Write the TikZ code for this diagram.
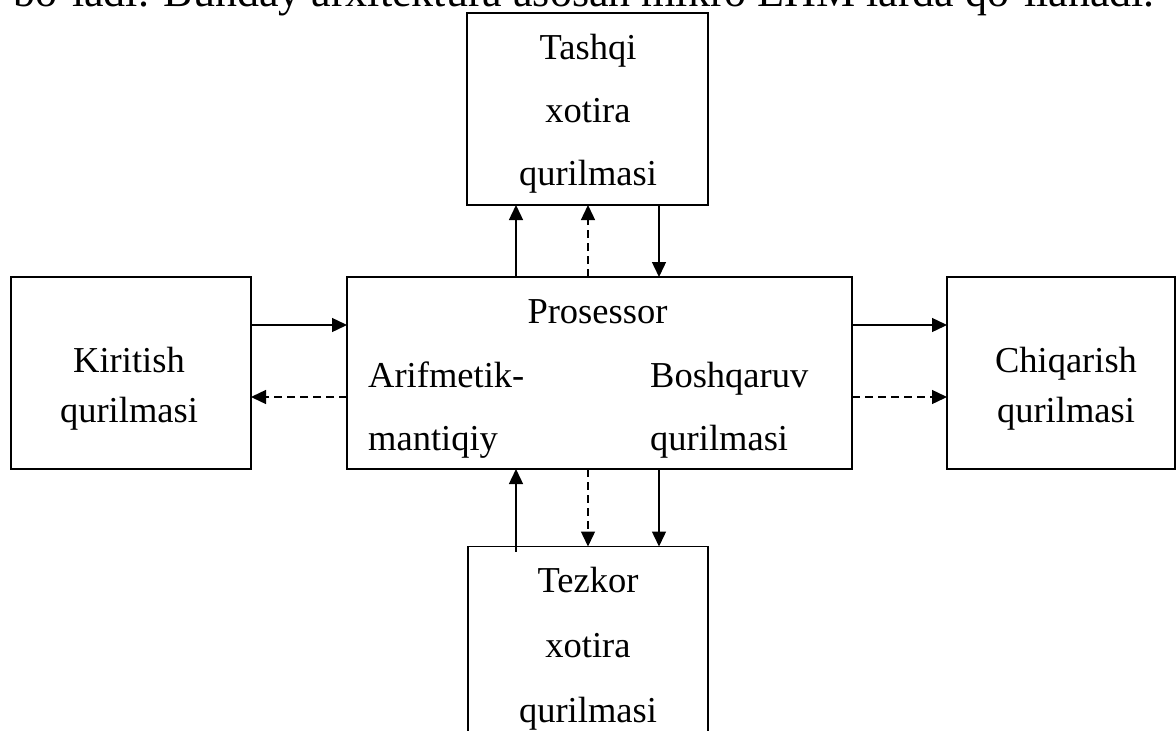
\documentclass[tikz,border=0pt]{standalone}
\usepackage{fontspec}
\setmainfont{Liberation Serif}
\usetikzlibrary{arrows.meta}
\begin{document}
\begin{tikzpicture}[x=1pt,y=-1pt,
  unit/.style={draw,line width=1.6pt,inner sep=0pt,outer sep=0pt},
  lbl/.style={inner sep=0pt,font=\fontsize{36.5}{36.5}\selectfont},
  arr/.style={line width=1.4pt,-{Triangle[length=15pt,width=14pt]}},
  dsh/.style={arr,dash pattern=on 8pt off 5pt}]
\useasboundingbox (0,0) rectangle (1176,731);
\clip (0,0) rectangle (1176,731);

% preceding line of body text
\node[inner sep=0pt,font=\fontsize{44}{44}\selectfont,anchor=base east] (prev) at (1155,6) {bo‘ladi. Bunday arxitektura asosan mikro EHM larda qo‘llanadi.};

% blocks
\node[unit,minimum width=241pt,minimum height=192pt] (tashqi) at (587.5,109) {};
\node[unit,minimum width=505pt,minimum height=192pt] (proc) at (599.5,373) {};
\node[unit,minimum width=240pt,minimum height=192pt] (kirit) at (131,373) {};
\node[unit,minimum width=228pt,minimum height=192pt] (chiq) at (1061,373) {};
\node[unit,minimum width=240pt,minimum height=214pt] (tezkor) at (588,653.5) {};

% block labels
\node[lbl,anchor=base] (t1) at (588,59) {Tashqi};
\node[lbl,anchor=base] (t2) at (588,122) {xotira};
\node[lbl,anchor=base] (t3) at (588,185) {qurilmasi};
\node[lbl,anchor=base] (p0) at (597.5,323) {Prosessor};
\node[lbl,anchor=base west] (p1) at (368,387) {Arifmetik-};
\node[lbl,anchor=base west] (p2) at (368,450) {mantiqiy};
\node[lbl,anchor=base west] (p3) at (650,387) {Boshqaruv};
\node[lbl,anchor=base west] (p4) at (650,450) {qurilmasi};
\node[lbl,anchor=base] (k1) at (129,372) {Kiritish};
\node[lbl,anchor=base] (k2) at (129,422) {qurilmasi};
\node[lbl,anchor=base] (c1) at (1066,372) {Chiqarish};
\node[lbl,anchor=base] (c2) at (1066,422) {qurilmasi};
\node[lbl,anchor=base] (z1) at (588,592) {Tezkor};
\node[lbl,anchor=base] (z2) at (588,657) {xotira};
\node[lbl,anchor=base] (z3) at (588,722) {qurilmasi};

% connector columns and rows
\coordinate (xa) at (516,0);
\coordinate (xb) at (588,0);
\coordinate (xc) at (659,0);
\coordinate (ya) at (0,325);
\coordinate (yb) at (0,397);

% processor <-> external memory
\draw[arr] (proc.north -| xa) -- (tashqi.south -| xa);
\draw[dsh] (proc.north -| xb) -- (tashqi.south -| xb);
\draw[arr] (tashqi.south -| xc) -- (proc.north -| xc);

% processor <-> main memory
\draw[arr] ([yshift=-5pt]tezkor.north -| xa) -- (proc.south -| xa);
\draw[dsh] (proc.south -| xb) -- (tezkor.north -| xb);
\draw[arr] (proc.south -| xc) -- (tezkor.north -| xc);

% input device
\draw[arr] (kirit.east |- ya) -- (proc.west |- ya);
\draw[dsh] (proc.west |- yb) -- (kirit.east |- yb);

% output device
\draw[arr] (proc.east |- ya) -- (chiq.west |- ya);
\draw[dsh] (proc.east |- yb) -- (chiq.west |- yb);
\end{tikzpicture}
\end{document}
